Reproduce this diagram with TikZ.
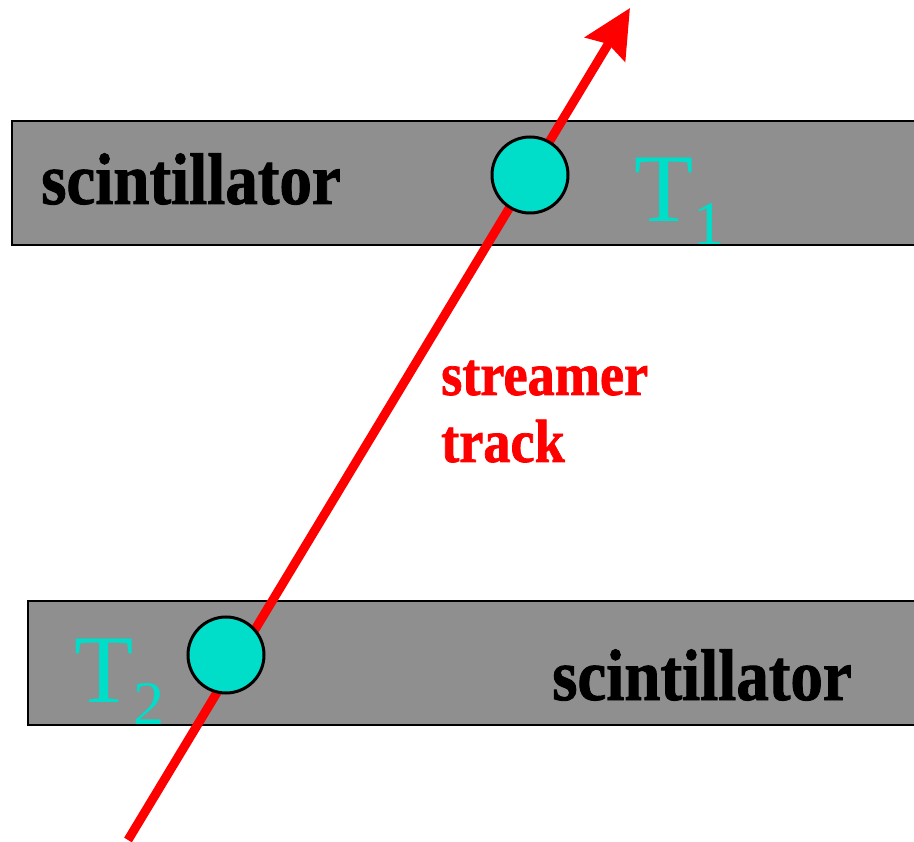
\documentclass[tikz,border=0pt]{standalone}
\usepackage{fontspec}
\setmainfont{Liberation Serif}
\newfontfamily\heavyfont{Liberation Serif Bold}[FakeBold=1.2,FakeStretch=0.89]
\usetikzlibrary{arrows.meta}
\definecolor{bargray}{RGB}{143,143,143}
\definecolor{hitcyan}{RGB}{0,221,200}
\definecolor{trackred}{RGB}{255,0,0}
\begin{document}
\begin{tikzpicture}[x=1pt,y=-1pt,
  bar/.style={fill=bargray,draw=black,line width=2pt},
  hit/.style={circle,fill=hitcyan,draw=black,line width=3pt,minimum size=76pt,inner sep=0pt},
  barlabel/.style={anchor=base west,inner sep=0pt,font=\fontsize{73}{80}\selectfont\heavyfont},
  tlabel/.style={anchor=base west,inner sep=0pt,text=hitcyan,font=\fontsize{97}{100}\selectfont},
  tracklabel/.style={anchor=base west,inner sep=0pt,text=trackred,font=\fontsize{61}{66}\selectfont\heavyfont},
  track/.style={draw=trackred,line width=9pt,-{Stealth[length=48pt,width=46pt,inset=6pt]}}]
\useasboundingbox (0,0) rectangle (914,842);
\clip (0,0) rectangle (914,842);
\draw[bar] (12,121) rectangle (920,245);
\draw[bar] (28,601) rectangle (920,725);
\coordinate (trackstart) at (128,840);
\coordinate (trackend) at (630,8);
\draw[track] (trackstart) -- (trackend);
\node[hit] (hit1) at (530,175) {};
\node[hit] (hit2) at (226,655) {};
\node[barlabel] (scint1) at (41,204) {scintillator};
\node[barlabel] (scint2) at (552,700) {scintillator};
\node[tlabel] (t1) at (634,222) {T\raisebox{-23pt}{\fontsize{62}{62}\selectfont 1}};
\node[tlabel] (t2) at (74,702) {T\raisebox{-22pt}{\fontsize{62}{62}\selectfont 2}};
\node[tracklabel] (streamer) at (441,395) {streamer};
\node[tracklabel] (tracktext) at (441,462) {track};
\end{tikzpicture}
\end{document}
